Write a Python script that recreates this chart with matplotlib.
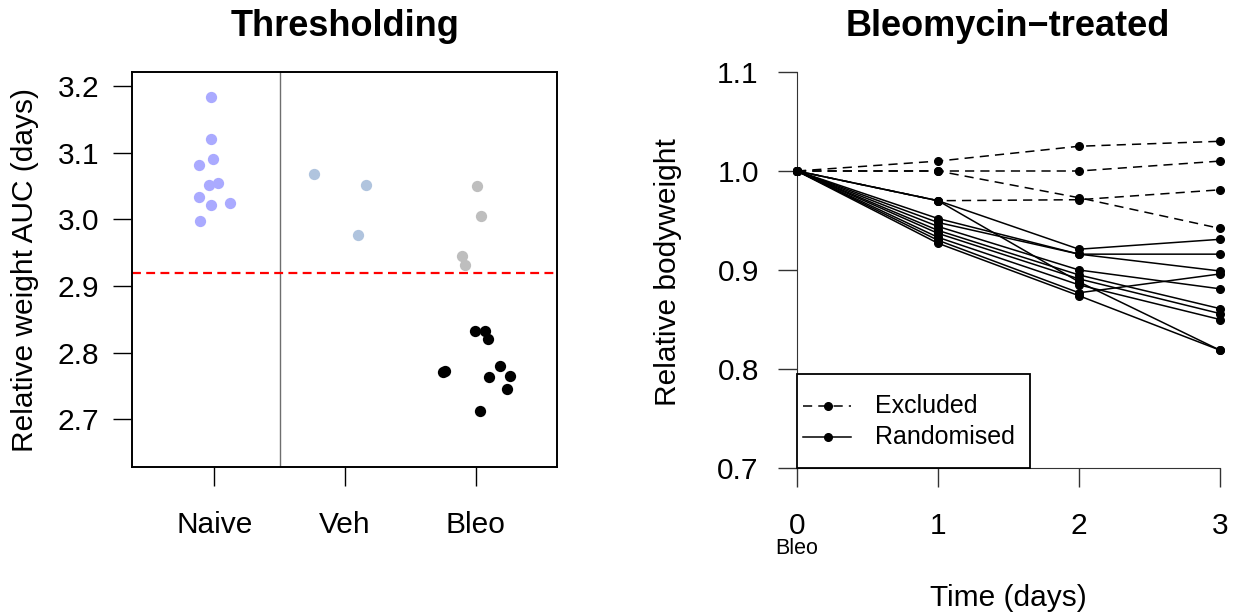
import matplotlib
matplotlib.use("Agg")
import matplotlib.pyplot as plt
from matplotlib.patches import Rectangle

plt.rcParams['font.family'] = ['Liberation Sans', 'DejaVu Sans']

# ---------------- data ----------------
groups = ["Naive", "Veh", "Bleo"]
threshold = 2.92

naive_auc = [3.183, 3.121, 3.090, 3.082, 3.054, 3.051, 3.033, 3.022, 3.024, 2.997]
naive_jit = [-0.028, -0.023, -0.008, -0.117, 0.028, -0.038, -0.120, -0.023, 0.120, -0.109]
veh_auc = [3.068, 3.051, 2.977]
veh_jit = [-0.242, 0.156, 0.100]
bleo_excl_auc = [3.050, 3.005, 2.945, 2.931]
bleo_excl_jit = [0.011, 0.040, -0.105, -0.087]
bleo_rand_auc = [2.8325, 2.833, 2.821, 2.771, 2.773, 2.780, 2.765, 2.763, 2.745, 2.712]
bleo_rand_jit = [-0.005, 0.072, 0.090, -0.250, -0.240, 0.184, 0.258, 0.102, 0.238, 0.033]

days = [0, 1, 2, 3]
day_labels = ["0", "1", "2", "3"]
legend_labels = ["Excluded", "Randomised"]
excluded = [
    [1.0, 1.010, 1.025, 1.030],
    [1.0, 1.000, 1.000, 1.010],
    [1.0, 1.000, 0.973, 0.942],
    [1.0, 0.970, 0.971, 0.981],
]
randomised = [
    [1.0, 0.970, 0.921, 0.931],
    [1.0, 0.970, 0.888, 0.819],
    [1.0, 0.952, 0.916, 0.916],
    [1.0, 0.948, 0.916, 0.899],
    [1.0, 0.944, 0.900, 0.881],
    [1.0, 0.940, 0.895, 0.861],
    [1.0, 0.937, 0.891, 0.856],
    [1.0, 0.933, 0.885, 0.850],
    [1.0, 0.930, 0.877, 0.896],
    [1.0, 0.927, 0.874, 0.819],
]

W, H = 1238, 616
fig = plt.figure(figsize=(W / 100, H / 100), dpi=100)

def box(l, t, r, b):
    return [l / W, 1 - b / H, (r - l) / W, (b - t) / H]

TICK_FS = 21.5
TICK_LEN = 13.5
DASH = (0, (6, 4))

# ---------------- left panel ----------------
ax1 = fig.add_axes(box(132, 72, 557, 467))
ax1.scatter([1 + j for j in naive_jit], naive_auc, s=66, color="#AAAAFF", linewidths=0, zorder=3)
ax1.scatter([2 + j for j in veh_jit], veh_auc, s=66, color="#B0C4DE", linewidths=0, zorder=3)
ax1.scatter([3 + j for j in bleo_excl_jit], bleo_excl_auc, s=66, color="#BEBEBE", linewidths=0, zorder=3)
ax1.scatter([3 + j for j in bleo_rand_jit], bleo_rand_auc, s=66, color="black", linewidths=0, zorder=3)
ax1.axhline(threshold, color="red", lw=1.6, dashes=(4.0, 2.4), zorder=2)
ax1.axvline(1.5, color="#6E6E6E", lw=1.0, zorder=1)
ax1.set_xlim(0.37, 3.62)
ax1.set_ylim(2.6285, 3.221)
ax1.set_xticks([1, 2, 3])
ax1.set_xticklabels(groups)
ax1.set_yticks([2.7, 2.8, 2.9, 3.0, 3.1, 3.2])
ax1.set_yticklabels(["2.7", "2.8", "2.9", "3.0", "3.1", "3.2"])
ax1.tick_params(axis="both", direction="out", length=TICK_LEN, width=1.0, labelsize=TICK_FS)
ax1.tick_params(axis="y", pad=10)
ax1.tick_params(axis="x", pad=18)
for sp in ax1.spines.values():
    sp.set_linewidth(1.4)

fig.text(345 / W, 1 - 27 / H, "Thresholding", fontsize=26, fontweight="bold", ha="center", va="center")
fig.text(25 / W, 1 - 270 / H, "Relative weight AUC (days)", fontsize=21.5, rotation=90, ha="center", va="center")

# ---------------- right panel ----------------
AX2_L, AX2_T, AX2_R, AX2_B = 797, 72, 1220, 468
ax2 = fig.add_axes(box(AX2_L, AX2_T, AX2_R, AX2_B))
for ys in excluded:
    ax2.plot(days, ys, color="black", lw=1.1, ls=DASH, marker="o", ms=5.5, clip_on=False, zorder=3)
for ys in randomised:
    ax2.plot(days, ys, color="black", lw=1.1, ls="-", marker="o", ms=5.5, clip_on=False, zorder=3)
ax2.set_xlim(0, 3)
ax2.set_ylim(0.7, 1.1)
ax2.set_xticks(days)
ax2.set_xticklabels(day_labels)
ax2.set_yticks([0.7, 0.8, 0.9, 1.0, 1.1])
ax2.set_yticklabels(["0.7", "0.8", "0.9", "1.0", "1.1"])
ax2.spines["top"].set_visible(False)
ax2.spines["right"].set_visible(False)
ax2.spines["left"].set_color("#333333")
ax2.spines["bottom"].set_color("#333333")
ax2.tick_params(axis="both", direction="out", length=TICK_LEN, width=1.0, labelsize=TICK_FS, color="#333333")
ax2.tick_params(axis="y", pad=14)
ax2.tick_params(axis="x", pad=18)

fig.text(1008 / W, 1 - 27 / H, "Bleomycin\u2212treated", fontsize=26, fontweight="bold", ha="center", va="center")
fig.text(668 / W, 1 - 272 / H, "Relative bodyweight", fontsize=21.5, rotation=90, ha="center", va="center")
fig.text(1008 / W, 1 - 598 / H, "Time (days)", fontsize=21.5, ha="center", va="center")
fig.text(797 / W, 1 - 549 / H, "Bleo", fontsize=15.5, ha="center", va="center")

# manual legend (R-style box) in axes-fraction coordinates
def axfrac(px, py):
    return ((px - AX2_L) / (AX2_R - AX2_L), (AX2_B - py) / (AX2_B - AX2_T))

x0, y0 = axfrac(797, 468)
x1, y1 = axfrac(1030, 374)
ax2.add_patch(Rectangle((x0, y0), x1 - x0, y1 - y0, transform=ax2.transAxes, fill=True,
                        facecolor="white", edgecolor="black", lw=1.3, zorder=5, clip_on=False))
for label, style, py in zip(legend_labels, [DASH, "-"], [406, 437]):
    hx0, hy = axfrac(803, py)
    hx1, _ = axfrac(851, py)
    hm, _ = axfrac(828, py)
    ax2.plot([hx0, hx1], [hy, hy], transform=ax2.transAxes, color="black", lw=1.1, ls=style,
             zorder=6, clip_on=False)
    ax2.plot([hm], [hy], transform=ax2.transAxes, color="black", marker="o", ms=5.5,
             zorder=6, clip_on=False)
    tx, _ = axfrac(875, py)
    ax2.text(tx, hy, label, transform=ax2.transAxes, fontsize=18, ha="left", va="center", zorder=6)

fig.savefig("out.png", dpi=100, facecolor="white")
